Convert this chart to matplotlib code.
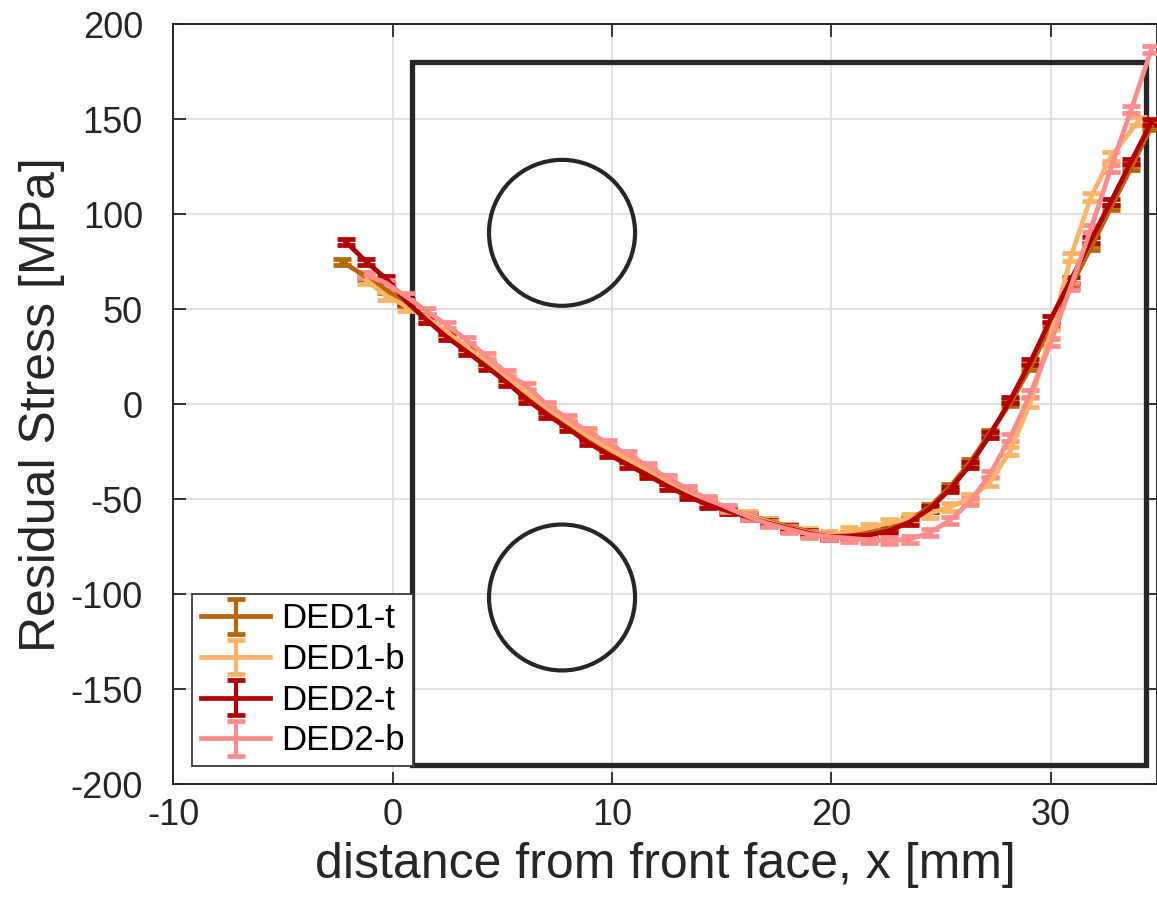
import numpy as np
import matplotlib.pyplot as plt
from matplotlib.patches import Rectangle, Ellipse

plt.rcParams['font.family'] = ['Liberation Sans', 'DejaVu Sans']
plt.rcParams['axes.unicode_minus'] = False

# measurement positions [mm]
x_t = [-2.13, -1.21, -0.29, 0.62, 1.54, 2.46, 3.38, 4.30, 5.21, 6.13,
       7.05, 7.97, 8.89, 9.80, 10.72, 11.64, 12.56, 13.48, 14.39, 15.31,
       16.23, 17.15, 18.07, 18.98, 19.90, 20.82, 21.74, 22.65, 23.57, 24.49,
       25.41, 26.33, 27.24, 28.16, 29.08, 30.00, 30.92, 31.84, 32.75, 33.67,
       34.59]
x_d1t = [-2.30] + x_t[1:]
x_d1b = x_t[1:39] + [34.00]
x_d2b = x_t[1:]

# residual stress [MPa]
s_d1t = [75, 67, 60, 53, 45.5, 37, 29, 21, 13, 4,
         -3.5, -10.5, -17.5, -24, -30, -35.5, -41.5, -46.5, -51, -55,
         -58.5, -61.5, -64.5, -67, -69, -68.5, -67.5, -65.5, -61, -54,
         -43.5, -30.5, -15, 0.5, 19.5, 41.5, 62, 82.5, 103.5, 124.5,
         146]
s_d1b = [65.4, 57, 51.5, 45.5, 38, 30, 22, 14, 6,
         -2, -9.5, -16.5, -23, -29, -34.5, -40.5, -46, -51, -55,
         -58.5, -62, -65, -67.5, -69, -67, -65, -62.5, -60, -57.5,
         -54, -49.5, -41, -24.5, 1, 37, 77.5, 109, 130.3, 149]
s_d2t = [85.4, 75, 66, 54, 44.4, 35.4, 27.6, 19.6, 11.3, 2.3,
         -5.6, -12.6, -20.2, -26.2, -31.9, -37.5, -43.4, -48.6, -53, -56.2,
         -59.5, -62.6, -65.3, -67.9, -69.7, -69.3, -68.8, -66.5, -62, -55,
         -44.8, -32, -16.2, 2.3, 22.4, 44.7, 65.4, 86.5, 106.6, 127.7,
         148.4]
s_d2b = [68, 63.7, 56.6, 49.1, 41.7, 33.8, 25, 16.3, 9.3,
         -0.4, -7.4, -14.4, -20.5, -26.5, -32.5, -39, -44.7, -50, -54.7,
         -59.2, -63, -65.8, -68.4, -69.7, -70.5, -71.4, -71.8, -71, -67.7,
         -61, -51.3, -36.7, -17.4, 5.5, 32.3, 61.9, 92.6, 124.2, 154.9, 186.5]

err_d1t = 1.5
err_d1b = 2.2
err_d2t = 1.5
err_d2b = 1.8

labels = ['DED1-t', 'DED1-b', 'DED2-t', 'DED2-b']
colors = ['#B8660A', '#FFB366', '#B30000', '#FF8C8C']

# specimen outline and holes
box_x = [0.87, 34.34]
box_y = [-190, 180]
hole_x = 7.72
hole_y = [90.2, -101.7]

fig = plt.figure(figsize=(11.57, 9.09), dpi=100)
ax = fig.add_axes([0.1499, 0.1372, 0.8501, 0.8362])

edge = '#262626'
ax.add_patch(Rectangle((box_x[0], box_y[0]), box_x[1] - box_x[0], box_y[1] - box_y[0],
                       fill=False, ec=edge, lw=3.8, zorder=2))
for hy in hole_y:
    ax.add_patch(Ellipse((hole_x, hy), 6.66, 76.8, fill=False, ec=edge, lw=3.0, zorder=2))

series = [(x_d1t, s_d1t, err_d1t), (x_d1b, s_d1b, err_d1b),
          (x_t, s_d2t, err_d2t), (x_d2b, s_d2b, err_d2b)]
for (xs, ys, e), lab, c in zip(series, labels, colors):
    ax.errorbar(xs, ys, yerr=e, color=c, lw=3.4, elinewidth=3.0, capsize=6.5,
                capthick=3.4, label=lab, zorder=3)

ax.set_xlim(-10, 34.85)
ax.set_ylim(-200, 200)
ax.set_xticks([-10, 0, 10, 20, 30])
ax.set_yticks(np.arange(-200, 201, 50))
ax.grid(True, color='#dcdcdc', lw=1.2)
ax.set_axisbelow(True)
ax.tick_params(direction='in', length=9, width=1.3, labelsize=26, colors=edge,
               top=True, right=True, pad=10)
ax.tick_params(axis='y', pad=22)
for sp in ax.spines.values():
    sp.set_color(edge)
    sp.set_linewidth(1.4)

ax.set_xlabel('distance from front face, x [mm]', fontsize=36, color=edge, labelpad=6)
ax.set_ylabel('Residual Stress [MPa]', fontsize=36, color=edge, labelpad=4)

leg = ax.legend(loc='lower left', bbox_to_anchor=(0.019, 0.024), fontsize=25,
                frameon=True, fancybox=False, framealpha=1, edgecolor='#3c3c3c',
                handlelength=2.0, handletextpad=0.3, labelspacing=0.22,
                borderpad=0.25, borderaxespad=0)
leg.get_frame().set_linewidth(1.3)
leg.set_zorder(5)

fig.savefig('out.png', dpi=100)
